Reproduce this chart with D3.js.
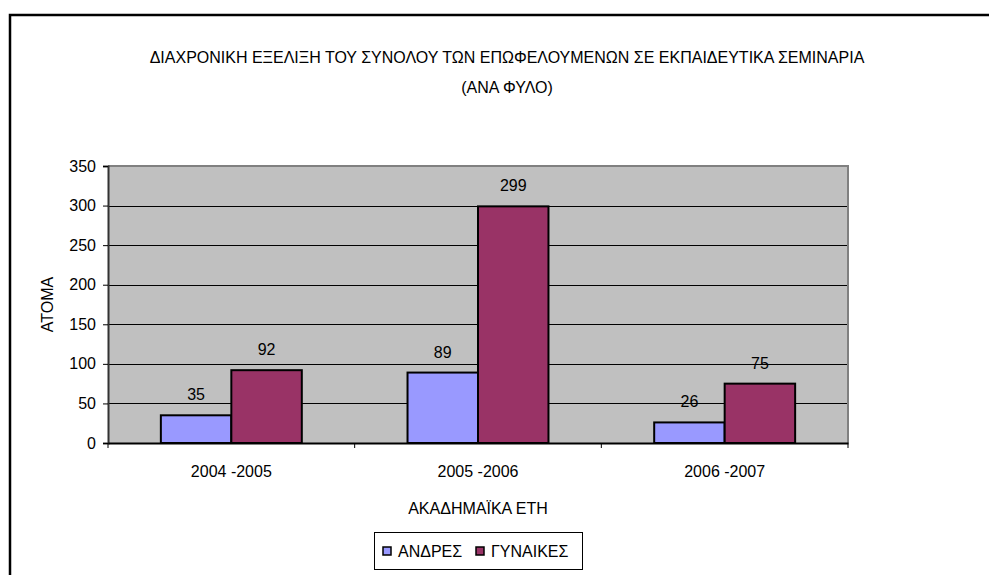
<!DOCTYPE html>
<html><head><meta charset="utf-8">
<script src="https://cdn.jsdelivr.net/npm/d3@7"></script>
<style>body{margin:0;background:#fff}svg{display:block}text{font-family:"Liberation Sans",Arial,sans-serif;fill:#000}</style>
</head><body>
<svg id="c" width="989" height="575"></svg>
<script>
const categories = ["2004 -2005", "2005 -2006", "2006 -2007"];
const seriesNames = ["ΑΝΔΡΕΣ", "ΓΥΝΑΙΚΕΣ"];
const andres = [35, 89, 26];
const gynaikes = [92, 299, 75];
const yTicks = [0, 50, 100, 150, 200, 250, 300, 350];
const colors = ["#9999FF", "#993366"];
const titleLines = ["ΔΙΑΧΡΟΝΙΚΗ ΕΞΕΛΙΞΗ ΤΟΥ ΣΥΝΟΛΟΥ ΤΩΝ ΕΠΩΦΕΛΟΥΜΕΝΩΝ ΣΕ ΕΚΠΑΙΔΕΥΤΙΚΑ ΣΕΜΙΝΑΡΙΑ", "(ΑΝΑ ΦΥΛΟ)"];
const yTitle = "ΑΤΟΜΑ";
const xTitle = "ΑΚΑΔΗΜΑΪΚΑ ΕΤΗ";

const FS = 16;
const svg = d3.select("#c");
const L = 108, R = 848, T = 166, B = 443;

// chart frame
svg.append("rect").attr("x", 10).attr("y", 15).attr("width", 1000).attr("height", 600)
  .attr("fill", "none").attr("stroke", "#000").attr("stroke-width", 2.5);

const x0 = d3.scaleBand().domain(categories).range([L, R]).paddingInner(0).paddingOuter(0);
const bw = x0.bandwidth() / 3.5;
const y = d3.scaleLinear().domain([0, 350]).range([B, T]);

// plot area
svg.append("rect").attr("x", L).attr("y", T).attr("width", R - L).attr("height", B - T).attr("fill", "#C0C0C0");
// gridlines
svg.append("g").selectAll("line").data(yTicks.filter(d => d > 0 && d < 350)).join("line")
  .attr("x1", L).attr("x2", R).attr("y1", d => Math.round(y(d)) + 0.5).attr("y2", d => Math.round(y(d)) + 0.5)
  .attr("stroke", "#000").attr("stroke-width", 1);
// plot border top/right gray
svg.append("path").attr("d", `M${L},${T}H${R}V${B}`).attr("fill", "none").attr("stroke", "#808080").attr("stroke-width", 2);

// bars
const data = categories.map((c, i) => ({c, v: [andres[i], gynaikes[i]]}));
const g = svg.append("g");
data.forEach(d => {
  d.v.forEach((v, j) => {
    const bx = x0(d.c) + bw * 0.75 + j * bw;
    g.append("rect").attr("x", bx).attr("y", y(v)).attr("width", bw).attr("height", B - y(v))
      .attr("fill", colors[j]).attr("stroke", "#000").attr("stroke-width", 2);
    g.append("text").attr("x", bx + bw / 2).attr("y", y(v) - 15).attr("text-anchor", "middle")
      .attr("font-size", FS).text(v);
  });
});

// y axis
const ya = svg.append("g").attr("transform", `translate(${L},0)`)
  .call(d3.axisLeft(y).tickValues(yTicks).tickSize(5).tickPadding(7));
ya.select(".domain").attr("stroke", "#333").attr("stroke-width", 2);
ya.selectAll(".tick line").attr("stroke", "#000");
ya.selectAll("text").attr("font-size", FS).attr("font-family", "Liberation Sans, Arial, sans-serif").attr("fill", "#000");

// x axis
const xa = svg.append("g").attr("transform", `translate(0,${B})`)
  .call(d3.axisBottom(x0).tickSize(0));
xa.select(".domain").attr("stroke", "#000").attr("stroke-width", 2);
xa.selectAll("text").attr("y", 34).attr("dy", null).attr("font-size", FS)
  .attr("font-family", "Liberation Sans, Arial, sans-serif").attr("fill", "#000");
svg.append("g").selectAll("line").data([0, 1, 2, 3]).join("line")
  .attr("x1", i => L + i * x0.bandwidth()).attr("x2", i => L + i * x0.bandwidth())
  .attr("y1", B).attr("y2", B + 5).attr("stroke", "#000");

// titles
svg.append("g").selectAll("text").data(titleLines).join("text")
  .attr("x", 507).attr("y", (d, i) => 63 + i * 30).attr("text-anchor", "middle").attr("font-size", FS).text(d => d);
svg.append("text").attr("transform", `translate(53,${(T + B) / 2}) rotate(-90)`).attr("text-anchor", "middle")
  .attr("font-size", FS).text(yTitle);
svg.append("text").attr("x", (L + R) / 2).attr("y", 514).attr("text-anchor", "middle").attr("font-size", FS).text(xTitle);

// legend
svg.append("rect").attr("x", 374.5).attr("y", 532.5).attr("width", 208).attr("height", 37)
  .attr("fill", "#fff").attr("stroke", "#000").attr("stroke-width", 1);
const lx = [383, 476];
seriesNames.forEach((s, j) => {
  svg.append("rect").attr("x", lx[j]).attr("y", 547).attr("width", 8).attr("height", 8)
    .attr("fill", colors[j]).attr("stroke", "#000").attr("stroke-width", 1.5);
  svg.append("text").attr("x", lx[j] + 15).attr("y", 557).attr("font-size", FS).text(s);
});
</script>
</body></html>
